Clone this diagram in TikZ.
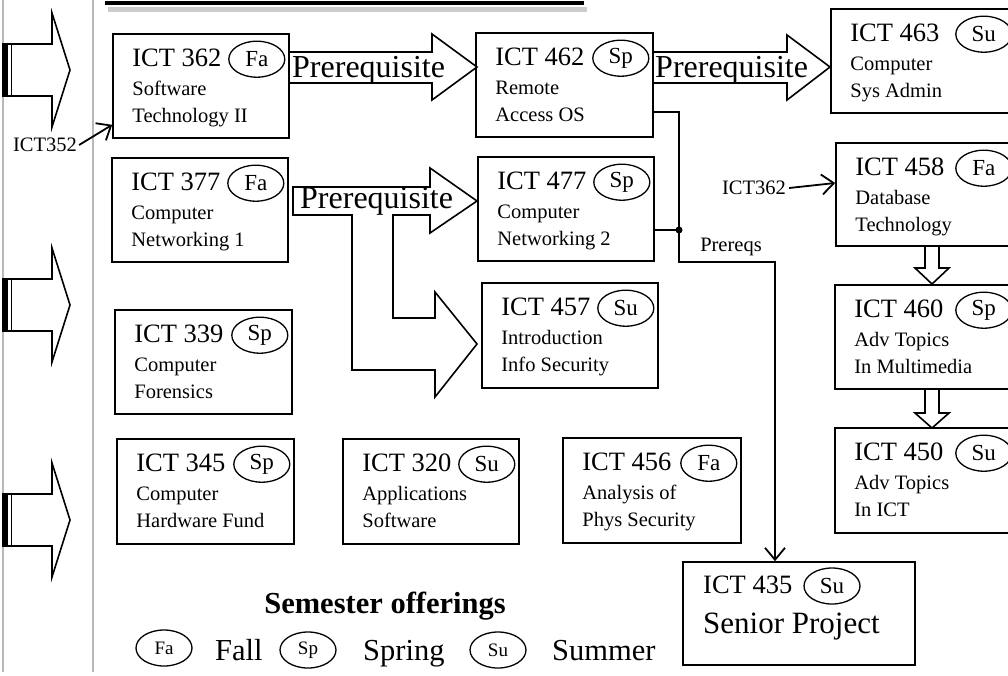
\documentclass[tikz,border=0pt]{standalone}
\usepackage{fontspec}
\setmainfont{Liberation Serif}
\usetikzlibrary{arrows.meta,shapes.geometric}
% one course: name, x1, y1, x2, y2, number, semester, line 1, line 2
\newcommand{\course}[9]{%
	\node [box, minimum width={#4-#2}, minimum height={#5-#3}](#1) at ({(#2+#4)/2},{(#3+#5)/2}) {};
	\node [sem](#1s) at ([shift={(-33,26)}]#1.north east) {#7};
	\node [head](#1h) at ([shift={(20,33)}]#1.north west) {#6};
	\node [sub](#1a) at ([shift={(20,62)}]#1.north west) {#8};
	\node [sub](#1b) at ([shift={(20,89)}]#1.north west) {#9};
}
\begin{document}
\begin{tikzpicture}[x=1pt, y=-1pt,
		box/.style = {draw, rectangle, line width = 1.6pt, inner sep = 0pt},
		sem/.style = {draw, ellipse, line width = 1.3pt, minimum width = 56pt, minimum height = 36pt, inner sep = 0pt, font = \fontsize{23}{25}\selectfont},
		head/.style = {anchor = base west, inner sep = 0pt, font = \fontsize{26.5}{30}\selectfont},
		sub/.style = {anchor = base west, inner sep = 0pt, font = \fontsize{20.5}{24}\selectfont},
		big/.style = {anchor = base west, inner sep = 0pt, font = \fontsize{31}{34}\selectfont},
		pre/.style = {anchor = base west, inner sep = 0pt, font = \fontsize{32}{36}\selectfont},
		leg/.style = {anchor = base west, inner sep = 0pt, font = \fontsize{30.5}{34}\selectfont},
		block/.style = {draw, fill = white, line width = 1.6pt, line join = miter},
		conn/.style = {line width = 1.8pt},
		tip/.style = {-{Straight Barb[length = 12pt, width = 20pt]}}]
		\useasboundingbox (0,0) rectangle (1008,675);
		\clip (0,0) rectangle (1008,675);
		% margin and title bar
		\draw [gray!55, line width = 1.5pt] (3,0) -- (3,672);
		\draw [gray!55, line width = 1.5pt] (93,0) -- (93,672);
		\draw [black!20, line width = 5pt] (108,9) -- (587,9);
		\draw [line width = 4pt] (105,3) -- (584,3);
		\foreach \ty in {70,305,520} {
			\draw [block] (3,\ty-26) -- (52,\ty-26) -- (52,\ty-57) -- (70,\ty) -- (52,\ty+57) -- (52,\ty+26) -- (3,\ty+26) -- cycle;
			\fill (3,\ty-26) rectangle (8,\ty+26);
			\draw [line width = 1pt] (11,\ty-26) -- (11,\ty+26);
		}
		% courses
		\course{c362}{113}{34}{289}{138}{ICT 362}{Fa}{Software}{Technology II}
		\course{c462}{476}{33}{653}{137}{ICT 462}{Sp}{Remote}{Access OS}
		\course{c463}{831}{9}{1016}{113}{ICT 463}{Su}{Computer}{Sys Admin}
		\course{c377}{112}{158}{288}{262}{ICT 377}{Fa}{Computer}{Networking 1}
		\course{c477}{478}{157}{654}{261}{ICT 477}{Sp}{Computer}{Networking 2}
		\course{c458}{836}{143}{1016}{246}{ICT 458}{Fa}{Database}{Technology}
		\course{c457}{482}{283}{658}{388}{ICT 457}{Su}{Introduction}{Info Security}
		\course{c339}{115}{310}{292}{414}{ICT 339}{Sp}{Computer}{Forensics}
		\course{c460}{835}{285}{1016}{389}{ICT 460}{Sp}{Adv Topics}{In Multimedia}
		\course{c345}{117}{439}{294}{544}{ICT 345}{Sp}{Computer}{Hardware Fund}
		\course{c320}{343}{439}{519}{544}{ICT 320}{Su}{Applications}{Software}
		\course{c456}{563}{438}{741}{543}{ICT 456}{Fa}{Analysis of}{Phys Security}
		\course{c450}{835}{428}{1016}{533}{ICT 450}{Su}{Adv Topics}{In ICT}
		\node [box, minimum width = 232, minimum height = 103](c435) at (799,613.5) {};
		\node [sem](c435s) at (832,586) {Su};
		\node [head](c435h) at (703,593) {ICT 435};
		\node [big](c435a) at (703,633) {Senior Project};
		% prerequisite block arrows
		\draw [block] (289,52) -- (432,52) -- (432,34) -- (477,67) -- (432,100) -- (432,83) -- (289,83) -- cycle;
		\draw [block] (653,52) -- (787,52) -- (787,35) -- (830,67) -- (787,100) -- (787,83) -- (653,83) -- cycle;
		\draw [block] (293,187) -- (430,187) -- (430,168) -- (477,201) -- (430,233) -- (430,215) -- (393,215) -- (393,318) -- (435,318) -- (435,292) -- (477,344) -- (435,397) -- (435,370) -- (352,370) -- (352,215) -- (293,215) -- cycle;
		\node [pre](pre1) at (292,77) {Prerequisite};
		\node [pre](pre2) at (655,77) {Prerequisite};
		\node [pre](pre3) at (300,208) {Prerequisite};
		\draw [block] (925,246) -- (925,268) -- (915,268) -- (932,284) -- (949,268) -- (939,268) -- (939,246) -- cycle;
		\draw [block] (925,389) -- (925,413) -- (915,413) -- (932,428) -- (949,413) -- (939,413) -- (939,389) -- cycle;
		% thin connectors
		\node [sub, anchor = center](t352) at (45,145) {ICT352};
		\draw [conn, tip] ([xshift = 2pt]t352.east) -- ([yshift = 14pt]c362.south west);
		\node [sub, anchor = center](t362) at (754,188) {ICT362};
		\draw [conn, tip] ([xshift = 3pt]t362.east) -- ([yshift = 11.5pt]c458.west);
		\coordinate (jn) at (679,230);
		\draw [conn, tip] ([yshift = -27pt]c462.east) -| (679,262) -| ([xshift = -24pt]c435.north);
		\draw [conn] ([yshift = -21pt]c477.east) -- (jn);
		\fill (jn) circle (3.5);
		\node [sub, anchor = center](prq) at (731,247) {Prereqs};
		% legend
		\node [leg, anchor = base, font = \bfseries\fontsize{30.5}{34}\selectfont](semoff) at (385,613) {Semester offerings};
		\node [sem, font = \fontsize{19}{21}\selectfont](kfa) at (164,648) {Fa};
		\node [leg](kfall) at (215,660) {Fall};
		\node [sem, font = \fontsize{19}{21}\selectfont](ksp) at (308,650) {Sp};
		\node [leg](kspring) at (363,660) {Spring};
		\node [sem, font = \fontsize{19}{21}\selectfont](ksu) at (498,650) {Su};
		\node [leg](ksummer) at (552,660) {Summer};
\end{tikzpicture}
\end{document}
